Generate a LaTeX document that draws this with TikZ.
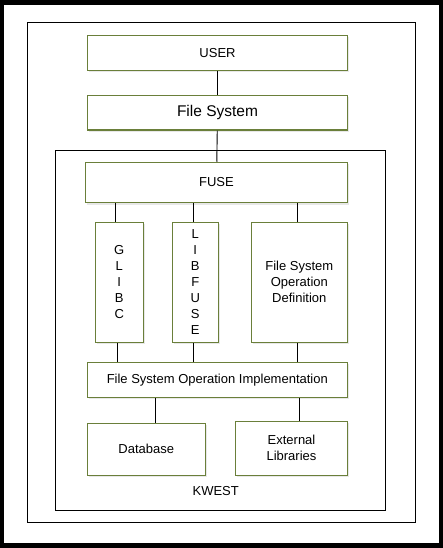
\documentclass[tikz,border=0pt]{standalone}
\usepackage{fontspec}
\setmainfont{Liberation Sans}
\usepackage{xcolor}
\usepackage{tikz}
\usetikzlibrary{shadows}
\definecolor{boxgreen}{HTML}{6A7F3A}
\tikzset{blk/.style={draw=boxgreen,line width=1.1pt,fill=white,inner sep=0pt,align=center,
		drop shadow={shadow xshift=1.5pt,shadow yshift=-2pt,opacity=0.25,fill=black!35},
		font=\fontsize{13}{16}\selectfont}}
\begin{document}
\begin{tikzpicture}[x=1pt,y=-1pt]
		\fill[black] (0,0) rectangle (443,548);
		\fill[white] (4,5) rectangle (438.5,542.5);
		\draw[line width=1pt] (27.3,22.3) rectangle (415.7,522.3);
		\draw[line width=1pt] (55.3,150.7) rectangle (385.7,510);
		\node[font=\fontsize{13}{16}\selectfont] (kwest) at (215.7,491) {KWEST};

		\node[blk,minimum width=260.4pt,minimum height=35pt] (user) at (217.5,52.8) {USER};
		\node[blk,minimum width=260.4pt,minimum height=34.7pt,font=\fontsize{15.5}{18}\selectfont] (fs) at (217.5,112.7) {File System};
		\node[blk,minimum width=262.4pt,minimum height=40.4pt] (fuse) at (216.5,182.5) {FUSE};
	\node[blk,minimum width=48pt,minimum height=120pt] (glibc) at (119.3,282.3) {G\\L\\I\\B\\C};
	\node[blk,minimum width=46pt,minimum height=120pt] (libfuse) at (195.3,282.3) {L\\I\\B\\F\\U\\S\\E};
	\node[blk,minimum width=96pt,minimum height=120pt] (fsod) at (299.3,282.3) {File System\\Operation\\Definition};
		\node[blk,minimum width=260pt,minimum height=35pt] (fsoi) at (217.3,379.8) {File System Operation Implementation};
	\node[blk,minimum width=118pt,minimum height=52pt] (db) at (146.3,449.3) {Database};
	\node[blk,minimum width=112.4pt,minimum height=54pt] (ext) at (291.5,448.3) {External\\Libraries};

		\draw[line width=0.9pt] (user) -- (fs);
		\draw[line width=0.9pt] (fs) -- (fuse);
		\draw[line width=0.9pt] ([xshift=-3.6pt]glibc.north) -- ([xshift=-3.6pt]glibc.north |- fuse.south);
		\draw[line width=0.9pt] ([xshift=-2pt]libfuse.north) -- ([xshift=-2pt]libfuse.north |- fuse.south);
		\draw[line width=0.9pt] ([xshift=-2pt]fsod.north) -- ([xshift=-2pt]fsod.north |- fuse.south);
		\draw[line width=0.9pt] ([xshift=-1.6pt]glibc.south) -- ([xshift=-1.6pt]glibc.south |- fsoi.north);
		\draw[line width=0.9pt] ([xshift=-2pt]libfuse.south) -- ([xshift=-2pt]libfuse.south |- fsoi.north);
		\draw[line width=0.9pt] ([xshift=-2pt]fsod.south) -- ([xshift=-2pt]fsod.south |- fsoi.north);
		\draw[line width=0.9pt] ([xshift=9pt]db.north) -- ([xshift=9pt]db.north |- fsoi.south);
		\draw[line width=0.9pt] ([xshift=7.8pt]ext.north) -- ([xshift=7.8pt]ext.north |- fsoi.south);
	\end{tikzpicture}
\end{document}
